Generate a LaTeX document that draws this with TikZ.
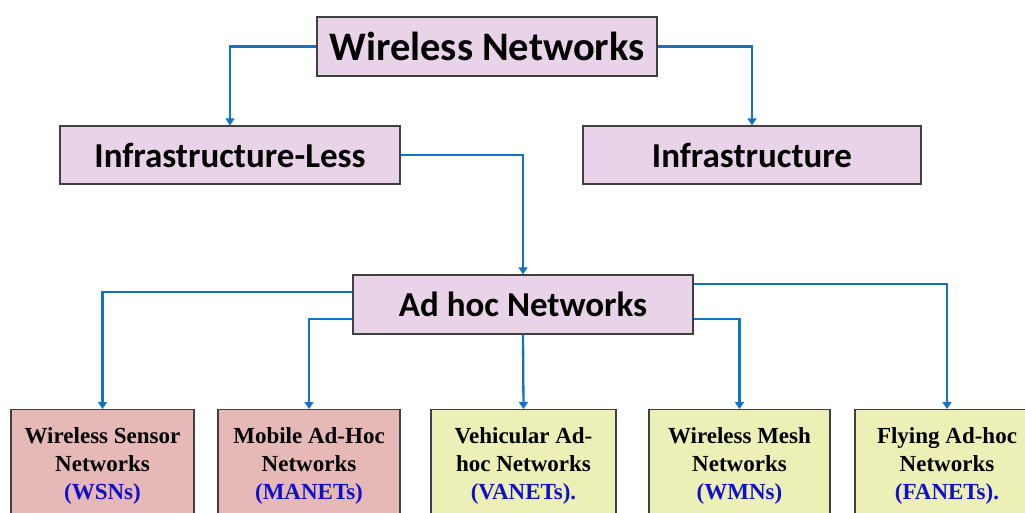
\documentclass[tikz,border=0pt]{standalone}
\usepackage{fontspec}
\setmainfont{Liberation Serif}
\newfontfamily\calib{Carlito}
\usetikzlibrary{arrows.meta}
\definecolor{lnblue}{HTML}{1272C4}
\definecolor{lilac}{HTML}{E8D3E8}
\definecolor{rosy}{HTML}{E6B8B7}
\definecolor{paleyel}{HTML}{EDF0B6}
\definecolor{bordgray}{HTML}{404040}
\definecolor{txtblue}{HTML}{1010C8}
\tikzset{
  topbox/.style={draw=bordgray, line width=1.3pt, fill=lilac, inner sep=0pt,
    font=\calib\bfseries\fontsize{35}{40}\selectfont},
  leafbox/.style={draw=bordgray, line width=1.3pt, inner sep=0pt, align=center,
    minimum height=112, font=\bfseries\fontsize{23}{28}\selectfont},
  conn/.style={draw=lnblue, line width=2.3pt, -{Triangle[width=9pt,length=7pt]}},
  abbr/.style={text=txtblue}
}
\begin{document}
\begin{tikzpicture}[x=1pt,y=-1pt]
\useasboundingbox (0,0) rectangle (1025,512);
\fill[white] (0,0) rectangle (1025,512);
% main nodes
\node[topbox, minimum width=340, minimum height=59, font=\calib\bfseries\fontsize{40.5}{46}\selectfont] (wn) at (487,46.5) {Wireless Networks};
\node[topbox, minimum width=340, minimum height=58] (il) at (230,155) {Infrastructure-Less};
\node[topbox, minimum width=338, minimum height=58] (inf) at (752,155) {Infrastructure};
\node[topbox, minimum width=340, minimum height=59] (ah) at (523,304.5) {Ad hoc Networks};
% leaf nodes
\node[leafbox, fill=rosy, minimum width=183, anchor=north] (wsn) at (102.5,409) {Wireless Sensor\\Networks\\\textcolor{txtblue}{(WSNs)}};
\node[leafbox, fill=rosy, minimum width=182, anchor=north] (man) at (309,409) {Mobile Ad-Hoc\\Networks\\\textcolor{txtblue}{(MANETs)}};
\node[leafbox, fill=paleyel, minimum width=185, anchor=north] (van) at (523.5,409) {Vehicular Ad-\\hoc Networks\\\textcolor{txtblue}{(VANETs).}};
\node[leafbox, fill=paleyel, minimum width=181, anchor=north] (wmn) at (739.5,409) {Wireless Mesh\\Networks\\\textcolor{txtblue}{(WMNs)}};
\node[leafbox, fill=paleyel, minimum width=184, anchor=north] (fan) at (947,409) {Flying Ad-hoc\\Networks\\\textcolor{txtblue}{(FANETs).}};
% connectors
\draw[conn] (wn.west) -| (il.north);
\draw[conn] (wn.east) -| (inf.north);
\draw[conn] (il.east) -| (ah.north);
\draw[conn] (ah.west |- 0,292) -| (wsn.north);
\draw[conn] (ah.west |- 0,319) -| (man.north);
\draw[conn] (ah.south) -- (van.north);
\draw[conn] (ah.east |- 0,319) -| (wmn.north);
\draw[conn] (ah.east |- 0,284) -| (fan.north);
\end{tikzpicture}
\end{document}
